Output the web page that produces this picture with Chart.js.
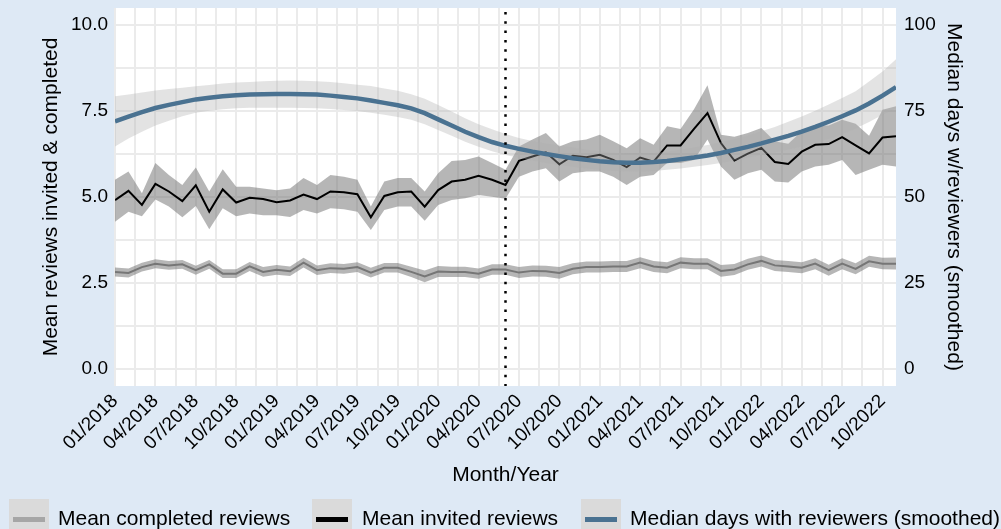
<!DOCTYPE html>
<html>
<head>
<meta charset="utf-8">
<script src="https://cdn.jsdelivr.net/npm/chart.js@4.4.0/dist/chart.umd.min.js"></script>
<style>
  body { margin: 0; background: #dee9f5; font-family: "Liberation Sans", Arial, sans-serif; }
  #wrap { position: relative; width: 1001px; height: 529px; overflow: hidden; }
  .key { position: absolute; top: 499px; width: 40px; height: 32px; background: #dadada; }
  .key span { position: absolute; left: 4px; right: 4px; top: 18px; height: 5px; }
  .lbl { position: absolute; top: 505px; font-size: 21px; line-height: 26px; color: #000; white-space: nowrap; }
</style>
</head>
<body>
<div id="wrap">
  <canvas id="chart"></canvas>
  <div class="key" style="left:9px"><span style="background:#a6a6a6"></span></div>
  <div class="lbl" style="left:58px">Mean completed reviews</div>
  <div class="key" style="left:312px"><span style="background:#000"></span></div>
  <div class="lbl" style="left:362px">Mean invited reviews</div>
  <div class="key" style="left:581px"><span style="background:#4a7291"></span></div>
  <div class="lbl" style="left:630px">Median days with reviewers (smoothed)</div>
</div>
<script>
// months shown on the x axis (01/2018 .. 11/2022)
const months = [
  "01/2018","02/2018","03/2018","04/2018","05/2018","06/2018","07/2018","08/2018","09/2018","10/2018","11/2018","12/2018",
  "01/2019","02/2019","03/2019","04/2019","05/2019","06/2019","07/2019","08/2019","09/2019","10/2019","11/2019","12/2019",
  "01/2020","02/2020","03/2020","04/2020","05/2020","06/2020","07/2020","08/2020","09/2020","10/2020","11/2020","12/2020",
  "01/2021","02/2021","03/2021","04/2021","05/2021","06/2021","07/2021","08/2021","09/2021","10/2021","11/2021","12/2021",
  "01/2022","02/2022","03/2022","04/2022","05/2022","06/2022","07/2022","08/2022","09/2022","10/2022","11/2022"
];
const eventMonth = "06/2020";

// mean completed reviews + CI
const completed = [2.82,2.79,2.96,3.06,3.01,3.04,2.87,3.04,2.77,2.77, 2.98,2.82,2.88,2.84,3.09,2.87,2.93,2.91,2.96,2.80,
  2.94,2.94,2.82,2.69,2.83,2.82,2.82,2.77,2.89,2.89, 2.80,2.85,2.84,2.79,2.91,2.96,2.96,2.98,2.98,3.09,
  2.98,2.94,3.09,3.06,3.06,2.85,2.89,3.04,3.14,3.01, 2.98,2.94,3.06,2.87,3.06,2.91,3.13,3.06,3.06];
const completedLow = [2.69,2.66,2.83,2.93,2.88,2.91,2.74,2.91,2.64,2.64, 2.85,2.68,2.74,2.70,2.95,2.73,2.79,2.77,2.82,2.66,
  2.80,2.80,2.67,2.52,2.67,2.67,2.67,2.62,2.74,2.74, 2.64,2.69,2.68,2.62,2.75,2.80,2.80,2.82,2.82,2.93,
  2.82,2.78,2.93,2.90,2.90,2.68,2.73,2.88,2.98,2.85, 2.82,2.78,2.90,2.71,2.90,2.75,2.97,2.90,2.89];
const completedHigh = [2.95,2.92,3.09,3.19,3.14,3.17,3.00,3.17,2.90,2.90, 3.11,2.96,3.02,2.98,3.23,3.01,3.07,3.05,3.10,2.94,
  3.08,3.08,2.97,2.86,2.99,2.97,2.97,2.92,3.04,3.04, 2.96,3.01,3.00,2.96,3.07,3.12,3.12,3.14,3.14,3.25,
  3.14,3.10,3.25,3.22,3.22,3.02,3.05,3.20,3.30,3.17, 3.14,3.10,3.22,3.03,3.22,3.07,3.29,3.23,3.24];

// mean invited reviews + CI
const invited = [4.91,5.18,4.77,5.38,5.16,4.88,5.34,4.57,5.22,4.84, 4.98,4.94,4.85,4.90,5.07,4.94,5.16,5.14,5.08,4.41,
  5.03,5.14,5.16,4.72,5.20,5.45,5.50,5.62,5.50,5.35, 6.05,6.18,6.30,5.95,6.20,6.16,6.23,6.08,5.87,6.15,
  6.03,6.50,6.50,6.98,7.44,6.57,6.06,6.26,6.43,6.02, 5.96,6.32,6.52,6.54,6.74,6.50,6.27,6.73,6.77];
const invitedLow = [4.28,4.57,4.44,4.93,4.72,4.41,4.74,4.06,4.67,4.44, 4.52,4.47,4.47,4.42,4.62,4.52,4.67,4.64,4.57,4.04,
  4.62,4.72,4.72,4.31,4.77,4.91,4.96,5.06,5.01,4.95, 5.59,5.74,5.84,5.45,5.69,5.74,5.74,5.59,5.35,5.59,
  5.64,5.99,5.99,6.08,6.67,5.89,5.50,5.69,5.79,5.45, 5.42,5.74,5.89,5.94,6.08,5.64,5.79,5.94,5.89];
const invitedHigh = [5.50,5.74,5.11,5.99,5.64,5.35,5.86,5.16,5.81,5.30, 5.30,5.25,5.20,5.25,5.55,5.35,5.64,5.59,5.50,4.72,
  5.45,5.55,5.55,5.16,5.69,6.05,6.08,6.18,5.99,5.79, 6.47,6.67,6.86,6.47,6.62,6.67,6.81,6.62,6.42,6.71,
  6.52,7.06,6.98,7.55,8.25,6.81,6.75,6.86,7.01,6.62, 6.55,6.91,7.08,7.08,7.25,7.13,6.78,7.54,7.64];

// median days with reviewers (smoothed) + CI, right axis
const medianDays = [72.0,73.4,74.7,75.9,76.8,77.6,78.4,78.9,79.3,79.6, 79.8,79.9,80.0,80.0,79.9,79.8,79.5,79.1,78.7,78.1,
  77.4,76.7,75.8,74.4,72.6,70.8,69.0,67.4,66.0,64.9, 64.0,63.2,62.5,61.9,61.3,60.8,60.4,60.1,60.0,60.0,
  60.2,60.5,61.0,61.5,62.1,62.8,63.7,64.6,65.6,66.7, 67.8,69.0,70.4,71.9,73.5,75.2,77.2,79.5,82.0];
const medianLow = [64.7,67.0,69.0,70.8,72.2,73.5,74.5,75.1,75.5,75.8, 76.0,76.0,76.0,76.0,75.9,75.8,75.6,75.3,75.0,74.5,
  73.9,73.3,72.5,71.2,69.5,67.8,66.1,64.6,63.3,62.2, 61.4,60.6,59.9,59.3,58.8,58.3,57.9,57.6,57.5,57.4,
  57.6,57.9,58.3,58.8,59.3,59.9,60.6,61.4,62.2,63.0, 63.8,64.7,65.8,66.9,68.2,69.9,71.8,73.9,75.9];
const medianHigh = [79.3,79.8,80.4,81.0,81.4,81.8,82.2,82.6,83.0,83.3, 83.5,83.7,83.8,83.9,83.8,83.7,83.5,83.1,82.7,82.3,
  81.6,80.9,79.9,78.6,76.8,74.9,72.9,71.2,69.7,68.3, 67.2,66.3,65.6,65.0,64.4,63.8,63.3,62.9,62.6,62.5,
  62.8,63.2,63.8,64.4,65.1,65.9,66.8,67.9,69.1,70.4, 71.9,73.4,75.1,76.9,78.8,80.8,83.6,86.5,90.1];

const yTicks = [0, 1.25, 2.5, 3.75, 5, 6.25, 7.5, 8.75, 10];
const y1Ticks = [0, 25, 50, 75, 100];

const pts = arr => arr.map((v, i) => ({ x: i, y: v }));
const FONT = "'Liberation Sans', Arial, sans-serif";

const xGrid = [];
for (let v = 0; v <= months.length - 1; v += 1.5) xGrid.push(v);

const panelBg = {
  id: 'panelBg',
  beforeDraw(chart) {
    const { ctx, chartArea: a } = chart;
    ctx.save();
    ctx.fillStyle = '#ffffff';
    ctx.fillRect(a.left, a.top, a.right - a.left, a.bottom - a.top);
    ctx.restore();
  }
};

const eventLine = {
  id: 'eventLine',
  afterDatasetsDraw(chart) {
    const { ctx, chartArea: a, scales } = chart;
    const x = scales.x.getPixelForValue(months.indexOf(eventMonth));
    ctx.save();
    ctx.strokeStyle = '#000';
    ctx.lineWidth = 2.5;
    ctx.setLineDash([2.5, 6.8]);
    ctx.beginPath();
    ctx.moveTo(x, a.top + 4);
    ctx.lineTo(x, a.bottom);
    ctx.stroke();
    ctx.restore();
  }
};

const ribbon = (data, axis, order, fill) => ({
  data: pts(data), yAxisID: axis, order, borderWidth: 0, pointRadius: 0,
  backgroundColor: fill, fill: fill ? '-1' : false
});

// keep the panel where the reference has it
const noPad = s => { s.paddingTop = 0; s.paddingBottom = 0; s.paddingLeft = 0; s.paddingRight = 0; };

new Chart(document.getElementById('chart'), {
  type: 'line',
  data: {
    datasets: [
      ribbon(completedLow, 'y', 9, null),
      ribbon(completedHigh, 'y', 9, 'rgba(110,110,110,0.5)'),
      { label: 'Mean completed reviews', data: pts(completed), yAxisID: 'y', order: 8,
        borderColor: '#767676', borderWidth: 2, pointRadius: 0, fill: false },
      ribbon(invitedLow, 'y', 7, null),
      ribbon(invitedHigh, 'y', 7, 'rgba(110,110,110,0.5)'),
      { label: 'Mean invited reviews', data: pts(invited), yAxisID: 'y', order: 6,
        borderColor: '#000000', borderWidth: 2, pointRadius: 0, fill: false },
      ribbon(medianLow, 'y1', 5, null),
      ribbon(medianHigh, 'y1', 5, 'rgba(175,175,175,0.35)'),
      { label: 'Median days with reviewers (smoothed)', data: pts(medianDays), yAxisID: 'y1', order: 4,
        borderColor: '#4a7291', borderWidth: 4.5, pointRadius: 0, fill: false, borderCapStyle: 'butt' }
    ]
  },
  options: {
    responsive: true,
    maintainAspectRatio: false,
    animation: false,
    layout: { padding: { top: 8, left: 0, right: 0, bottom: 0 } },
    plugins: { legend: { display: false }, tooltip: { enabled: false } },
    scales: {
      x: {
        type: 'linear', min: 0, max: months.length - 1,
        afterBuildTicks: s => { s.ticks = xGrid.map(v => ({ value: v })); },
        afterFit: s => { s.height = 143; noPad(s); },
        grid: { color: '#ebebeb', lineWidth: 2, drawTicks: false },
        border: { display: false },
        ticks: {
          autoSkip: false, minRotation: 45, maxRotation: 45, padding: 4,
          color: '#000', font: { family: FONT, size: 19 },
          callback: v => (v % 3 === 0 ? months[v] : '')
        },
        title: { display: true, text: 'Month/Year', color: '#000',
          font: { family: FONT, size: 21 }, padding: { bottom: 41 } }
      },
      y: {
        position: 'left', min: -0.5, max: 10.5,
        afterBuildTicks: s => { s.ticks = yTicks.map(v => ({ value: v })); },
        afterFit: s => { s.width = 115; noPad(s); },
        grid: { color: '#ebebeb', lineWidth: 2, drawTicks: false },
        border: { display: false },
        ticks: { padding: 7, color: '#000', font: { family: FONT, size: 19 },
          callback: v => (v % 2.5 === 0 ? v.toFixed(1) : '') },
        title: { display: true, text: 'Mean reviews invited & completed', color: '#000',
          font: { family: FONT, size: 21 }, padding: { top: 39 } }
      },
      y1: {
        position: 'right', min: -5, max: 105,
        afterBuildTicks: s => { s.ticks = y1Ticks.map(v => ({ value: v })); },
        afterFit: s => { s.width = 105; noPad(s); },
        grid: { display: false, drawTicks: false },
        border: { display: false },
        ticks: { padding: 8, color: '#000', font: { family: FONT, size: 19 } },
        title: { display: true, text: 'Median days w/reviewers (smoothed)', color: '#000',
          font: { family: FONT, size: 21 }, padding: { top: 35 } }
      }
    }
  },
  plugins: [panelBg, eventLine]
});
</script>
</body>
</html>
